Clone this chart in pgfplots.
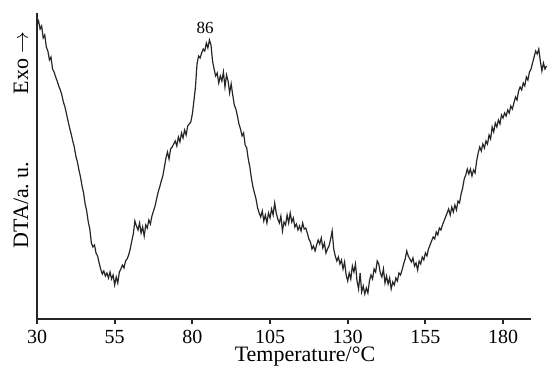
\documentclass[border=0pt]{standalone}
\usepackage{pgfplots}
\pgfplotsset{compat=1.18}
\usepackage{fontspec}
\setmainfont{Liberation Serif}
\pgfplotstableread{
T y
30.0 294
30.5 298
31.0 290
31.5 293
32.0 281
32.5 284
33.0 272
33.5 268
34.0 259
34.5 262
35.0 250
35.5 247
36.0 242
36.5 238
37.0 233
37.5 229
38.0 224
38.5 217
39.0 212
39.5 205
40.0 198
40.5 191
41.0 185
41.5 178
42.0 172
42.5 163
43.0 157
43.5 149
44.0 142
44.5 133
45.0 126
45.5 115
46.0 108
46.5 97
47.0 90
47.5 76
48.0 72
48.5 74
49.0 66
49.5 63
50.0 56
50.5 50
51.0 45
51.5 48
52.0 43
52.5 46
53.0 41
53.5 47
54.0 40
54.5 44
55.0 34
55.5 42
56.0 36
56.5 47
57.0 50
57.5 54
58.0 51
58.5 58
59.0 60
59.5 64
60.0 70
60.5 78
61.0 85
61.5 98
62.0 93
62.5 89
63.0 96
63.5 86
64.0 92
64.5 83
65.0 94
65.5 91
66.0 99
66.5 95
67.0 103
67.5 108
68.0 113
68.5 120
69.0 127
69.5 132
70.0 138
70.5 143
71.0 152
71.5 161
72.0 167
72.5 160
73.0 170
73.5 172
74.0 175
74.5 178
75.0 173
75.5 182
76.0 177
76.5 186
77.0 181
77.5 189
78.0 184
78.5 193
79.0 195
79.5 197
80.0 205
80.5 218
81.0 232
81.5 255
82.0 263
82.5 261
83.0 266
83.5 270
84.0 268
84.5 276
85.0 271
85.5 279
86.0 274
86.5 258
87.0 250
87.5 243
88.0 246
88.5 236
89.0 243
89.5 238
90.0 247
90.5 232
91.0 244
91.5 238
92.0 226
92.5 235
93.0 224
93.5 214
94.0 210
94.5 203
95.0 195
95.5 190
96.0 183
96.5 186
97.0 174
97.5 171
98.0 160
98.5 152
99.0 141
99.5 132
100.0 126
100.5 120
101.0 111
101.5 106
102.0 102
102.5 108
103.0 98
103.5 104
104.0 96
104.5 106
105.0 101
105.5 110
106.0 104
106.5 116
107.0 106
107.5 100
108.0 96
108.5 103
109.0 88
109.5 97
110.0 94
110.5 104
111.0 96
111.5 106
112.0 97
112.5 101
113.0 92
113.5 95
114.0 89
114.5 93
115.0 88
115.5 96
116.0 90
116.5 91
117.0 86
117.5 80
118.0 77
118.5 70
119.0 73
119.5 68
120.0 74
120.5 79
121.0 75
121.5 81
122.0 71
122.5 76
123.0 66
123.5 70
124.0 73
124.5 80
125.0 88
125.5 70
126.0 63
126.5 58
127.0 62
127.5 55
128.0 59
128.5 50
129.0 57
129.5 44
130.0 38
130.5 46
131.0 40
131.5 53
132.0 47
132.5 55
133.0 38
133.5 30
134.0 46
134.5 27
135.0 33
135.5 25
136.0 31
136.5 26
137.0 38
137.5 44
138.0 40
138.5 50
139.0 47
139.5 58
140.0 55
140.5 46
141.0 42
141.5 50
142.0 36
142.5 43
143.0 35
143.5 41
144.0 30
144.5 37
145.0 34
145.5 41
146.0 38
146.5 46
147.0 44
147.5 49
148.0 55
148.5 60
149.0 68
149.5 63
150.0 60
150.5 57
151.0 61
151.5 53
152.0 56
152.5 49
153.0 58
153.5 55
154.0 62
154.5 59
155.0 66
155.5 63
156.0 70
156.5 74
157.0 78
157.5 82
158.0 80
158.5 87
159.0 84
159.5 91
160.0 89
160.5 94
161.0 98
161.5 102
162.0 106
162.5 110
163.0 104
163.5 112
164.0 107
164.5 114
165.0 109
165.5 118
166.0 116
166.5 125
167.0 131
167.5 140
168.0 144
168.5 150
169.0 145
169.5 150
170.0 143
170.5 149
171.0 146
171.5 158
172.0 166
172.5 172
173.0 168
173.5 175
174.0 171
174.5 178
175.0 175
175.5 184
176.0 180
176.5 192
177.0 187
177.5 196
178.0 192
178.5 199
179.0 195
179.5 204
180.0 201
180.5 206
181.0 203
181.5 209
182.0 206
182.5 213
183.0 210
183.5 216
184.0 222
184.5 219
185.0 228
185.5 232
186.0 229
186.5 236
187.0 233
187.5 242
188.0 239
188.5 247
189.0 250
189.5 256
190.0 262
190.5 268
191.0 265
191.5 270
192.0 258
192.5 248
193.0 256
193.5 250
194.0 253
}\dta
\begin{document}
\begin{tikzpicture}
\useasboundingbox (-18.5pt,-24.3pt) rectangle (255pt,159.5pt);
\begin{axis}[
  at={(0pt,0pt)}, anchor=south west,
  scale only axis,
  width=247pt, height=153pt,
  xmin=30, xmax=189, ymin=0, ymax=306,
  axis lines=left,
  axis line style={-, line width=1pt, black!85},
  xtick={30,55,80,105,130,155,180},
  ytick=\empty,
  tick style={black!85, line width=1pt},
  major tick length=2.5pt,
  xtick align=outside,
  tick label style={font=\fontsize{10}{12}\selectfont},
  xticklabel style={inner sep=0pt, yshift=-2.8pt},
  /pgf/number format/assume math mode=true,
  clip=false,
]
\addplot[black!85, line width=0.6pt] table[x=T, y=y] {\dta};
\node[font=\fontsize{8.5}{10}\selectfont] at (axis cs:84.1,291.5) {86};
\end{axis}
\node[rotate=90, font=\fontsize{11}{13}\selectfont] at (-8pt,57pt) {DTA/a.\ u.};
\node[rotate=90, font=\fontsize{11}{13}\selectfont] at (-8pt,128pt) {Exo $\rightarrow$};
\node[font=\fontsize{11}{13}\selectfont, inner sep=0pt] at (134pt,-19pt) {Temperature/°C};
\end{tikzpicture}
\end{document}
